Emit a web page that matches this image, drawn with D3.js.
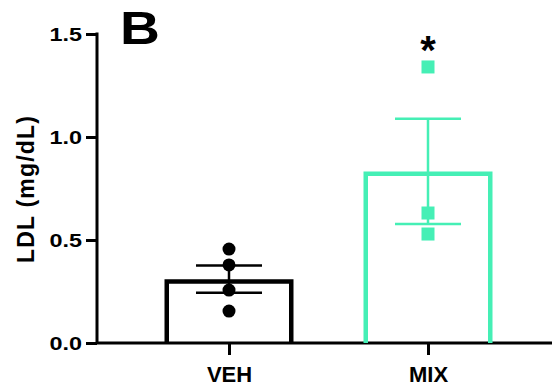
<!DOCTYPE html>
<html><head><meta charset="utf-8">
<script src="https://cdn.jsdelivr.net/npm/d3@7"></script>
<style>body{margin:0;background:#fff}svg{display:block}text{font-family:"Liberation Sans",Arial,sans-serif;font-weight:bold}</style>
</head><body>
<svg id="c" width="552" height="386"></svg>
<script>
const categories = ["VEH", "MIX"];
const means = [0.31, 0.833];
const sems = [0.066, 0.255];
const points = [[0.456, 0.379, 0.257, 0.155], [1.34, 0.631, 0.529]];
const colors = ["#000000", "#45EFB5"];
const yTicks = [0.0, 0.5, 1.0, 1.5];
const yLabel = "LDL (mg/dL)";
const panel = "B";
const signif = ["", "*"];

const svg = d3.select("#c");
const y = d3.scaleLinear().domain([0, 1.5]).range([343, 34]);
const x = d3.scalePoint().domain(categories).range([229, 428]);
const barW = 129, sw = 4.5;

// y axis
const ya = svg.append("g").attr("transform", "translate(97,0)")
  .call(d3.axisLeft(y).tickValues(yTicks).tickFormat(d3.format(".1f")).tickSize(11).tickSizeOuter(0));
ya.select(".domain").attr("stroke-width", 3).attr("d", `M0,${y(1.5)-1.5}V${y(0)}`);
ya.selectAll(".tick line").attr("stroke-width", 3);
ya.selectAll(".tick text").attr("font-size", 18).attr("font-weight", "bold").attr("x", 0).attr("dy", "0.36em")
  .attr("transform", "translate(-15,0) scale(1.3,1)").attr("fill", "#000");

// x axis
const xa = svg.append("g").attr("transform", `translate(0,${y(0)})`)
  .call(d3.axisBottom(x).tickSize(12).tickSizeOuter(0));
xa.select(".domain").attr("stroke-width", 3).attr("d", "M97,0H552");
xa.selectAll(".tick line").attr("stroke-width", 3);
xa.selectAll(".tick text").attr("font-size", 22).attr("font-weight", "bold").attr("y", 23).attr("dy", "0.71em").attr("fill", "#000");

// bars
categories.forEach((c, i) => {
  const cx = x(c), col = colors[i];
  const l = cx - barW/2 + sw/2, r = cx + barW/2 - sw/2, t = y(means[i]) + sw/2;
  svg.append("path")
    .attr("d", `M${l},${y(0)}V${t}H${r}V${y(0)}`)
    .attr("fill", "none").attr("stroke", col).attr("stroke-width", sw);
  const eg = svg.append("g").attr("stroke", col).attr("stroke-width", 2.5);
  eg.append("line").attr("x1", cx).attr("x2", cx).attr("y1", y(means[i]+sems[i])).attr("y2", y(means[i]-sems[i]));
  [means[i]+sems[i], means[i]-sems[i]].forEach(v =>
    eg.append("line").attr("x1", cx-33).attr("x2", cx+33).attr("y1", y(v)).attr("y2", y(v)));
  points[i].forEach(v => {
    if (i === 0) svg.append("circle").attr("cx", cx).attr("cy", y(v)).attr("r", 6.5).attr("fill", col);
    else svg.append("rect").attr("x", cx-6.5).attr("y", y(v)-6.5).attr("width", 13).attr("height", 13).attr("fill", col);
  });
  if (signif[i]) svg.append("text").attr("x", cx).attr("y", y(1.5)+30).attr("text-anchor", "middle")
    .attr("font-size", 40).text(signif[i]);
});

svg.append("text").attr("transform", "translate(34,189) rotate(-90)").attr("text-anchor", "middle")
  .attr("font-size", 23).attr("letter-spacing", 1.2).text(yLabel);
svg.append("text").attr("transform", "translate(120,44) scale(1.2,1)").attr("font-size", 46).text(panel);
</script>
</body></html>
